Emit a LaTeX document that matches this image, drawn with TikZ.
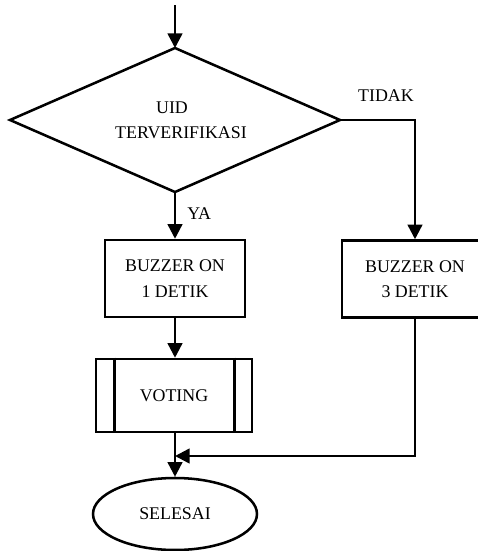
\documentclass[tikz,border=0pt]{standalone}
\usepackage{fontspec}
\setmainfont{Liberation Serif}
\usetikzlibrary{shapes.geometric,arrows.meta,calc}
\begin{document}
\begin{tikzpicture}[x=0.75pt,y=-0.75pt,
  every node/.style={font=\fontsize{13.4pt}{19pt}\selectfont, align=center},
  ln/.style={line width=1.9pt},
  arr/.style={ln, -{Triangle[length=11pt,width=11pt]}},
  procbox/.style={ln, draw, rectangle, minimum height=57.75pt, inner sep=0pt},
  endshape/.style={ln, draw, ellipse, minimum width=123pt, minimum height=54pt, inner sep=0pt},
  lbl/.style={inner sep=0pt}
]
\useasboundingbox (0,0) rectangle (478,551);

\coordinate (start) at (175,5);
\coordinate (dN) at (175,48);
\coordinate (dE) at (340,120);
\coordinate (dS) at (175,192);
\coordinate (dW) at (10,120);
\draw[ln, line join=miter] (dN) -- (dE) -- (dS) -- (dW) -- cycle;
\node (d) at (181,120) {UID\hspace*{13.5pt}\\TERVERIFIKASI};
\node[procbox, minimum width=105pt] (b1) at (175,278.5) {BUZZER ON\\1 DETIK};
\node[procbox, minimum width=109.5pt] (b2) at (415,279) {BUZZER ON\\3 DETIK};
\node[procbox, minimum width=117pt, minimum height=54.75pt] (v) at (174,395.5) {VOTING};
\draw[ln] ($(v.north west)+(20,0)$) -- ($(v.south west)+(20,0)$);
\draw[ln] ($(v.north east)+(-19,0)$) -- ($(v.south east)+(-19,0)$);
\node[endshape] (e) at (175,514) {SELESAI};
\coordinate (j) at (175,456);

\draw[arr] (start) -- (dN);
\draw[arr] (dS) -- (b1.north);
\node[lbl, anchor=west] (ya) at (187,214) {YA};
\draw[arr] (dE) -| (b2.north);
\node[lbl] (tidak) at (386,96) {TIDAK};
\draw[arr] (b1.south) -- (b1.south |- v.north);
\draw[arr] (b1.south |- v.south) -- (e.north);
\draw[arr] (b2.south) |- (j);
\end{tikzpicture}
\end{document}
